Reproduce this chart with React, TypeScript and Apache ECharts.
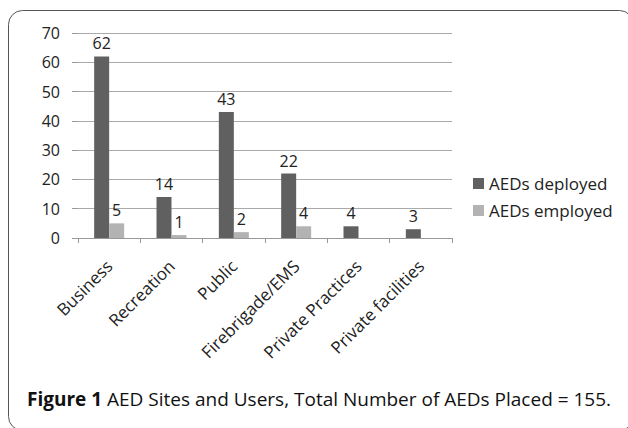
import React, { useEffect, useRef } from "react";
import * as echarts from "echarts";

const categories = ["Business", "Recreation", "Public", "Firebrigade/EMS", "Private Practices", "Private facilities"];
const deployed = [62, 14, 43, 22, 4, 3];
const employed = [5, 1, 2, 4, 0, 0];
const yTicks = [0, 10, 20, 30, 40, 50, 60, 70];

const FONT = "Open Sans";

export default function App() {
  const ref = useRef<HTMLDivElement>(null);
  useEffect(() => {
    if (!ref.current) return;
    const chart = echarts.init(ref.current, null, { renderer: "svg" });
    const labelFmt = (p: any) => (p.value === 0 ? "" : String(p.value));
    chart.setOption({
      animation: false,
      backgroundColor: "#ffffff",
      textStyle: { fontFamily: FONT },
      grid: { left: 78, right: 176, top: 33, bottom: 190, containLabel: false },
      legend: {
        orient: "vertical",
        left: 468,
        top: 170,
        itemWidth: 11,
        itemHeight: 11,
        itemGap: 10,
        icon: "rect",
        textStyle: { fontFamily: FONT, fontSize: 17, color: "#222" },
        data: ["AEDs deployed", "AEDs employed"],
      },
      xAxis: {
        type: "category",
        data: categories,
        axisLine: { show: true, lineStyle: { color: "#999", width: 1 } },
        axisTick: { show: true, length: 5, lineStyle: { color: "#999" } },
        axisLabel: { rotate: 45, fontFamily: FONT, fontSize: 17, color: "#222", margin: 25, interval: 0 },
      },
      yAxis: {
        type: "value",
        min: yTicks[0],
        max: yTicks[yTicks.length - 1],
        interval: 10,
        axisLine: { show: false },
        axisTick: { show: true, length: 6, lineStyle: { color: "#999" } },
        splitLine: { show: true, lineStyle: { color: "#aaa", width: 1 } },
        axisLabel: { fontFamily: FONT, fontSize: 16, color: "#222", margin: 18 },
      },
      series: [
        {
          name: "AEDs deployed",
          type: "bar",
          data: deployed,
          barWidth: 15,
          barGap: "0%",
          itemStyle: { color: "#606060" },
          label: { show: true, position: "top", distance: 5, fontFamily: FONT, fontSize: 16, color: "#222", formatter: labelFmt },
        },
        {
          name: "AEDs employed",
          type: "bar",
          data: employed,
          barWidth: 15,
          barGap: "0%",
          itemStyle: { color: "#b3b3b3" },
          label: { show: true, position: "top", distance: 5, fontFamily: FONT, fontSize: 16, color: "#222", formatter: labelFmt },
        },
      ],
      graphic: [
        {
          type: "rect",
          shape: { x: 8.5, y: 10.5, width: 625, height: 420, r: 14 },
          style: { fill: "none", stroke: "#555", lineWidth: 1 },
          silent: true,
        },
        {
          type: "text",
          left: 27,
          top: 389,
          style: {
            text: "{b|Figure 1} AED Sites and Users, Total Number of AEDs Placed = 155.",
            fontFamily: FONT,
            fontSize: 19,
            fill: "#111",
            rich: {
              b: { fontFamily: FONT, fontSize: 19, fontWeight: "bold", fill: "#111" },
            },
          },
        },
      ],
    });
    return () => chart.dispose();
  }, []);
  return <div ref={ref} style={{ position: "absolute", left: 0, top: 0, width: 628, height: 428 }} />;
}
